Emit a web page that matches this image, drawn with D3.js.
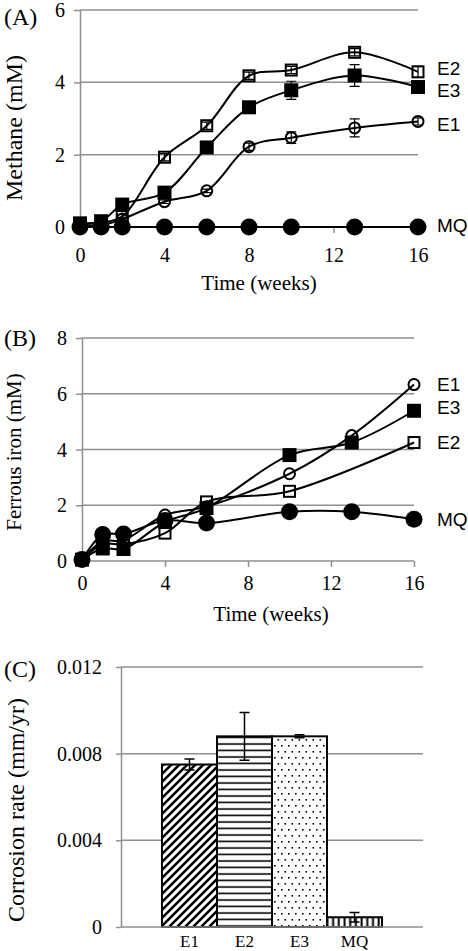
<!DOCTYPE html>
<html><head><meta charset="utf-8">
<script src="https://cdn.jsdelivr.net/npm/d3@7"></script>
<style>body{margin:0;background:#fff}svg{display:block}</style>
</head><body>
<svg id="c" width="468" height="951"></svg>
<script>
// ---- Panel A: methane ----
const weeksA = [0, 1, 2, 4, 6, 8, 10, 13, 16];
const methE1 = [0.05, 0.05, 0.22, 0.7, 1.0, 2.22, 2.47, 2.74, 2.92];
const methE2 = [0.1, 0.12, 0.29, 1.93, 2.8, 4.18, 4.34, 4.83, 4.29];
const methE3 = [0.1, 0.16, 0.62, 0.95, 2.2, 3.31, 3.78, 4.19, 3.87];
const methMQ = [0, 0, 0, 0, 0, 0, 0, 0, 0];
const methErrE1 = [0, 0, 0.05, 0.05, 0.05, 0.1, 0.16, 0.25, 0.1];
const methErrE2 = [0, 0, 0.05, 0.1, 0.1, 0.1, 0.1, 0.1, 0.15];
const methErrE3 = [0, 0, 0.05, 0.1, 0.1, 0.1, 0.25, 0.3, 0.1];
const methErrMQ = [0, 0, 0, 0, 0, 0, 0, 0, 0];
const yTicksA = [0, 2, 4, 6];
const xTicks = [0, 4, 8, 12, 16];

// ---- Panel B: ferrous iron ----
const weeksB = [0, 1, 2, 4, 6, 10, 13, 16];
const feE1 = [0.05, 0.7, 0.75, 1.65, 1.95, 3.13, 4.5, 6.33];
const feE2 = [0.05, 0.6, 0.6, 1.0, 2.12, 2.5, null, 4.25];
const feE3 = [0.05, 0.45, 0.43, 1.4, 1.9, 3.8, 4.25, 5.39];
const feMQ = [0.05, 0.95, 0.97, 1.45, 1.36, 1.77, 1.77, 1.5];
const yTicksB = [0, 2, 4, 6, 8];

// ---- Panel C: corrosion rate ----
const corrCats = ["E1", "E2", "E3", "MQ"];
const corrVals = [0.0075, 0.0088, 0.0088, 0.00045];
const corrErr = [0.00025, 0.0011, 0.00007, 0.00022];
const yTicksC = [0, 0.004, 0.008, 0.012];
const yTickLabelsC = ["0", "0.004", "0.008", "0.012"];

const svg = d3.select("#c");
const SERIF = "'Liberation Serif', 'Times New Roman', serif";
const SANS = "'Liberation Sans', Arial, sans-serif";
const GRID = "#8f8f8f";

// patterns
const defs = svg.append("defs");
const pDiag = defs.append("pattern").attr("id", "pDiag").attr("patternUnits", "userSpaceOnUse")
  .attr("width", 8).attr("height", 8);
pDiag.append("rect").attr("width", 8).attr("height", 8).attr("fill", "#fff");
pDiag.append("path").attr("d", "M0,8 L8,0 M-2,2 L2,-2 M6,10 L10,6").attr("stroke", "#000").attr("stroke-width", 2.6);
const pHor = defs.append("pattern").attr("id", "pHor").attr("patternUnits", "userSpaceOnUse")
  .attr("width", 10).attr("height", 6.5);
pHor.append("rect").attr("width", 10).attr("height", 6.5).attr("fill", "#fff");
pHor.append("path").attr("d", "M0,3 L10,3").attr("stroke", "#000").attr("stroke-width", 1.6);
const pDot = defs.append("pattern").attr("id", "pDot").attr("patternUnits", "userSpaceOnUse")
  .attr("width", 7).attr("height", 12);
pDot.append("rect").attr("width", 7).attr("height", 12).attr("fill", "#fff");
pDot.append("rect").attr("x", 1).attr("y", 1).attr("width", 1.6).attr("height", 1.6).attr("fill", "#000");
pDot.append("rect").attr("x", 4.5).attr("y", 7).attr("width", 1.6).attr("height", 1.6).attr("fill", "#000");
const pVer = defs.append("pattern").attr("id", "pVer").attr("patternUnits", "userSpaceOnUse")
  .attr("width", 5.7).attr("height", 10);
pVer.append("rect").attr("width", 5.7).attr("height", 10).attr("fill", "#fff");
pVer.append("path").attr("d", "M2.5,0 L2.5,10").attr("stroke", "#000").attr("stroke-width", 2);
const patterns = ["url(#pDiag)", "url(#pHor)", "url(#pDot)", "url(#pVer)"];

function styleAxis(g, fs) {
  g.selectAll(".domain").attr("stroke", GRID).attr("stroke-width", 1.5);
  g.selectAll(".tick line").attr("stroke", GRID).attr("stroke-width", 1.5);
  g.selectAll(".tick text").attr("font-family", SERIF).attr("font-size", fs).attr("fill", "#000");
}

function linePanel(opts) {
  const x = d3.scaleLinear().domain([0, 16]).range(opts.xr);
  const y = d3.scaleLinear().domain(opts.yd).range(opts.yr);
  const g = svg.append("g");
  g.selectAll(".grid").data(opts.yTicks.filter(v => v !== 0)).join("line")
    .attr("x1", opts.xr[0]).attr("x2", opts.xr[1])
    .attr("y1", d => y(d)).attr("y2", d => y(d))
    .attr("stroke", GRID).attr("stroke-width", 1.5);
  const ya = g.append("g").attr("transform", `translate(${opts.xr[0]},0)`)
    .call(d3.axisLeft(y).tickValues(opts.yTicks).tickFormat(d3.format("d")).tickSize(6).tickSizeOuter(0).tickPadding(9));
  styleAxis(ya, 20);
  ya.selectAll(".tick text").attr("dy", "0.33em");
  const xa = g.append("g").attr("transform", `translate(0,${y(0)})`)
    .call(d3.axisBottom(x).tickValues(xTicks).tickSize(6).tickSizeOuter(0).tickPadding(opts.xPad));
  styleAxis(xa, 20);
  xa.select(".domain").attr("d", `M${opts.xr[0]},0H${opts.xr[1]}`);

  const line = d3.line().defined(d => d[1] !== null)
    .x(d => x(d[0])).y(d => y(d[1])).curve(d3.curveCatmullRom.alpha(0.5));

  opts.series.forEach(s => {
    const pts = opts.weeks.map((w, i) => [w, s.vals[i], s.err ? s.err[i] : 0]).filter(d => d[1] !== null);
    g.append("path").datum(pts).attr("d", line).attr("fill", "none")
      .attr("stroke", "#000").attr("stroke-width", 2);
    const m = g.append("g");
    pts.forEach(d => {
      const cx = x(d[0]), cy = y(d[1]);
      if (s.marker === "sqOpen") {
        m.append("rect").attr("x", cx - 5.5).attr("y", cy - 5.5).attr("width", 11).attr("height", 11)
          .attr("fill", "none").attr("stroke", "#000").attr("stroke-width", 2);
      } else if (s.marker === "sqFill") {
        m.append("rect").attr("x", cx - 7).attr("y", cy - 7).attr("width", 14).attr("height", 14).attr("fill", "#000");
      } else if (s.marker === "ciOpen") {
        m.append("circle").attr("cx", cx).attr("cy", cy).attr("r", 5.5)
          .attr("fill", "none").attr("stroke", "#000").attr("stroke-width", 2);
      } else {
        m.append("circle").attr("cx", cx).attr("cy", cy).attr("r", 8.5).attr("fill", "#000");
      }
      if (d[2] > 0) {
        const y1 = y(d[1] + d[2]), y2 = y(d[1] - d[2]);
        m.append("path").attr("d", `M${cx},${y1}V${y2}M${cx - 5},${y1}H${cx + 5}M${cx - 5},${y2}H${cx + 5}`)
          .attr("stroke", "#000").attr("stroke-width", 1.2).attr("fill", "none");
      }
    });
    const last = pts[pts.length - 1];
    g.append("text").attr("x", 437).attr("y", y(last[1]) + s.ldy).attr("dy", "0.35em")
      .attr("font-family", SANS).attr("font-size", 19).attr("fill", "#000").text(s.name);
  });
  g.append("text").attr("x", opts.xtX).attr("y", opts.xtY).attr("text-anchor", "middle")
    .attr("font-family", SERIF).attr("font-size", 21).text("Time (weeks)");
  g.append("text").attr("transform", `translate(${opts.ytX},${opts.ytY}) rotate(-90)`).attr("text-anchor", "middle")
    .attr("font-family", SERIF).attr("font-size", opts.ytFs).text(opts.yTitle);
  g.append("text").attr("x", 4).attr("y", opts.plY).attr("font-family", SERIF).attr("font-size", 24).text(opts.pl);
}

linePanel({
  xr: [80, 418], yd: [0, 6], yr: [227, 10], yTicks: yTicksA, xPad: 15, weeks: weeksA,
  series: [
    { name: "E1", vals: methE1, err: methErrE1, marker: "ciOpen", ldy: 3 },
    { name: "E2", vals: methE2, err: methErrE2, marker: "sqOpen", ldy: -3 },
    { name: "E3", vals: methE3, err: methErrE3, marker: "sqFill", ldy: 3 },
    { name: "MQ", vals: methMQ, err: methErrMQ, marker: "ciFill", ldy: -2 }
  ],
  xtX: 259, xtY: 290, ytX: 22, ytY: 128, ytFs: 24, yTitle: "Methane (mM)", pl: "(A)", plY: 25
});

linePanel({
  xr: [82, 414], yd: [0, 8], yr: [561, 338], yTicks: yTicksB, xPad: 9, weeks: weeksB,
  series: [
    { name: "E1", vals: feE1, marker: "ciOpen", ldy: 0 },
    { name: "E2", vals: feE2, marker: "sqOpen", ldy: 0 },
    { name: "E3", vals: feE3, marker: "sqFill", ldy: -3 },
    { name: "MQ", vals: feMQ, marker: "ciFill", ldy: 0 }
  ],
  xtX: 271, xtY: 621, ytX: 21, ytY: 452, ytFs: 21, yTitle: "Ferrous iron (mM)", pl: "(B)", plY: 346
});

// Panel C
(function () {
  const x = d3.scaleBand().domain(corrCats).range([121, 423]).paddingInner(0).paddingOuter(0.745);
  const y = d3.scaleLinear().domain([0, 0.012]).range([927, 667]);
  const g = svg.append("g");
  g.selectAll(".grid").data(yTicksC.filter(v => v !== 0)).join("line")
    .attr("x1", 121).attr("x2", 423).attr("y1", d => y(d)).attr("y2", d => y(d))
    .attr("stroke", GRID).attr("stroke-width", 1.5);
  const ya = g.append("g").attr("transform", "translate(121,0)")
    .call(d3.axisLeft(y).tickValues(yTicksC).tickFormat((d, i) => yTickLabelsC[i]).tickSize(5).tickSizeOuter(0).tickPadding(14));
  styleAxis(ya, 20);
  ya.selectAll(".tick text").attr("dy", "0.33em");
  g.selectAll(".bar").data(corrCats).join("rect")
    .attr("x", d => x(d)).attr("width", x.bandwidth())
    .attr("y", (d, i) => y(corrVals[i])).attr("height", (d, i) => y(0) - y(corrVals[i]))
    .attr("fill", (d, i) => patterns[i]).attr("stroke", "#000").attr("stroke-width", 2);
  g.selectAll(".err").data(corrCats).join("path")
    .attr("d", (d, i) => {
      const cx = x(d) + x.bandwidth() / 2, y1 = y(corrVals[i] + corrErr[i]), y2 = y(corrVals[i] - corrErr[i]);
      return `M${cx},${y1}V${y2}M${cx - 5},${y1}H${cx + 5}M${cx - 5},${y2}H${cx + 5}`;
    })
    .attr("stroke", "#000").attr("stroke-width", 1.5).attr("fill", "none");
  const xa = g.append("g").attr("transform", "translate(0,927)")
    .call(d3.axisBottom(x).tickSize(0).tickSizeOuter(0).tickPadding(8));
  styleAxis(xa, 17);
  xa.select(".domain").attr("d", "M121,0H423");
  g.append("text").attr("transform", "translate(24,810) rotate(-90)").attr("text-anchor", "middle")
    .attr("font-family", SERIF).attr("font-size", 24).text("Corrosion rate (mm/yr)");
  g.append("text").attr("x", 4).attr("y", 677).attr("font-family", SERIF).attr("font-size", 24).text("(C)");
})();
</script>
</body></html>
